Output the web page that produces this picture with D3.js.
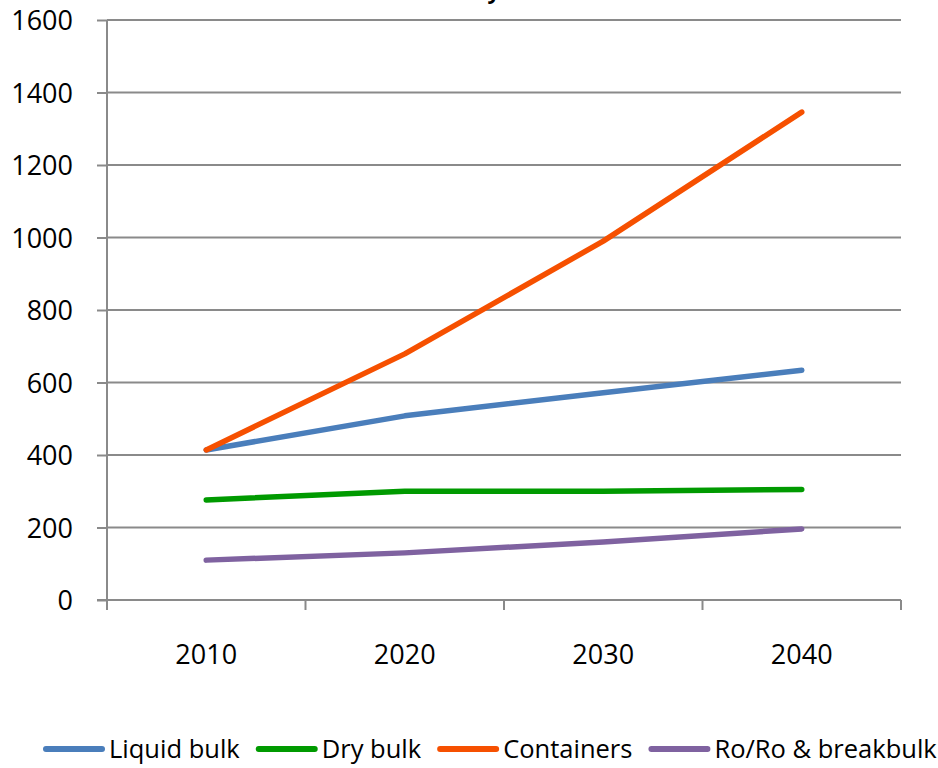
<!DOCTYPE html>
<html><head><meta charset="utf-8">
<script src="https://cdn.jsdelivr.net/npm/d3@7/dist/d3.min.js"></script>
<style>body{margin:0;background:#fff}</style>
</head><body>
<svg id="c" width="938" height="768"></svg>
<script>
const categories = ["2010", "2020", "2030", "2040"];
const seriesNames = ["Liquid bulk", "Dry bulk", "Containers", "Ro/Ro & breakbulk"];
const liquidBulk = [414, 508, 572, 634];
const dryBulk = [276, 300, 300, 305];
const containers = [414, 679, 990, 1346];
const roro = [110, 130, 160, 196];
const yTicks = [0, 200, 400, 600, 800, 1000, 1200, 1400, 1600];
const colors = ["#4a7ebb", "#009a00", "#f65000", "#7f62a0"];
const titleText = "Traffic forecast by";

const series = [liquidBulk, dryBulk, containers, roro].map((v, i) => ({name: seriesNames[i], values: v, color: colors[i]}));

const svg = d3.select("#c");
const W = 938, H = 768;
const m = {left: 107, right: 37, top: 20, bottom: 168};
const x = d3.scaleBand().domain(categories).range([m.left, W - m.right]);
const y = d3.scaleLinear().domain([0, 1600]).range([H - m.bottom, m.top]);
const gridColor = "#8a8a8a";

// title (cut off at top, as in the reference)
svg.append("text").attr("x", 500).attr("y", -1.5).attr("text-anchor", "end")
  .attr("font-family", "Open Sans").attr("font-weight", "bold").attr("font-size", 22).text(titleText);

// gridlines
svg.append("g").selectAll("line").data(yTicks.filter(d => d > 0)).join("line")
  .attr("x1", m.left).attr("x2", W - m.right)
  .attr("y1", d => y(d)).attr("y2", d => y(d))
  .attr("stroke", gridColor).attr("stroke-width", 2);

// y axis
const ya = svg.append("g").attr("transform", `translate(${m.left},0)`)
  .call(d3.axisLeft(y).tickValues(yTicks).tickSize(10).tickPadding(24).tickFormat(d3.format("d")));
ya.select(".domain").attr("stroke", gridColor).attr("stroke-width", 2).attr("d", `M0,${y(0)}V${y(1600)}`);
ya.selectAll(".tick line").attr("stroke", gridColor).attr("stroke-width", 2);
ya.selectAll("text").attr("font-family", "Open Sans").attr("font-size", 27).attr("fill", "#000").attr("dy", "0.36em");

// x axis
const xa = svg.append("g").attr("transform", `translate(0,${y(0)})`);
xa.append("line").attr("x1", m.left - 10).attr("x2", W - m.right).attr("stroke", gridColor).attr("stroke-width", 2);
const bounds = categories.map(c => x(c)).concat([x.range()[1]]);
xa.selectAll("line.t").data(bounds).join("line").attr("class", "t")
  .attr("x1", d => d).attr("x2", d => d).attr("y1", 0).attr("y2", 10)
  .attr("stroke", gridColor).attr("stroke-width", 2);
xa.selectAll("text").data(categories).join("text")
  .attr("x", d => x(d) + x.bandwidth() / 2).attr("y", 64).attr("text-anchor", "middle")
  .attr("font-family", "Open Sans").attr("font-size", 27).attr("fill", "#000").text(d => d);

// lines
const line = d3.line().x((d, i) => x(categories[i]) + x.bandwidth() / 2).y(d => y(d));
svg.append("g").selectAll("path").data(series).join("path")
  .attr("d", d => line(d.values)).attr("fill", "none").attr("stroke", d => d.color)
  .attr("stroke-width", 5.5).attr("stroke-linecap", "round").attr("stroke-linejoin", "round");

// legend
const lg = svg.append("g");
let cx = 43;
const ly = 749;
series.forEach(s => {
  lg.append("line").attr("x1", cx + 3).attr("x2", cx + 59).attr("y1", ly).attr("y2", ly)
    .attr("stroke", s.color).attr("stroke-width", 6).attr("stroke-linecap", "round");
  const t = lg.append("text").attr("x", cx + 66).attr("y", ly + 9)
    .attr("font-family", "Open Sans").attr("font-size", 25.5).attr("fill", "#000").text(s.name);
  cx = cx + 66 + t.node().getComputedTextLength() + 16;
});
</script>
</body></html>
